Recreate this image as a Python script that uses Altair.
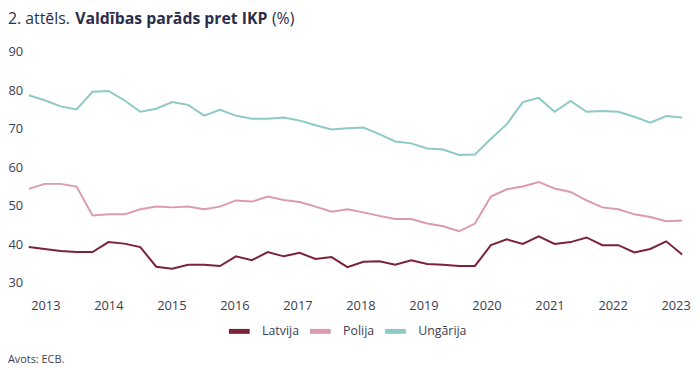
import altair as alt
import pandas as pd

# Quarterly data, 42 quarters
latvija = [39.3, 38.8, 38.3, 38.0, 38.0, 40.6, 40.2, 39.3, 34.2, 33.7, 34.7, 34.7, 34.4, 36.9,
           35.9, 38.0, 36.9, 37.8, 36.2, 36.7, 34.1, 35.5, 35.6, 34.7, 35.9, 34.9, 34.7, 34.4,
           34.4, 39.8, 41.3, 40.1, 42.1, 40.1, 40.6, 41.8, 39.8, 39.8, 37.9, 38.8, 40.8, 37.4]
polija = [54.4, 55.7, 55.7, 55.0, 47.5, 47.8, 47.8, 49.1, 49.8, 49.6, 49.8, 49.1, 49.8, 51.4,
          51.1, 52.4, 51.5, 51.0, 49.8, 48.5, 49.1, 48.3, 47.4, 46.6, 46.6, 45.4, 44.7, 43.4,
          45.4, 52.4, 54.3, 55.0, 56.2, 54.5, 53.6, 51.4, 49.6, 49.1, 47.8, 47.1, 46.0, 46.2]
ungarija = [78.7, 77.4, 75.8, 75.0, 79.6, 79.8, 77.4, 74.4, 75.2, 76.9, 76.2, 73.4, 74.9, 73.4,
            72.6, 72.6, 72.9, 72.1, 70.9, 69.8, 70.1, 70.3, 68.6, 66.7, 66.2, 64.9, 64.6, 63.2,
            63.3, 67.4, 71.2, 76.9, 78.0, 74.4, 77.2, 74.4, 74.6, 74.4, 73.1, 71.6, 73.3, 72.9]

series_names = ["Latvija", "Polija", "Ungārija"]
series_colors = ["#7d2236", "#dc9aae", "#8dc9c6"]
years = list(range(2013, 2024))
y_ticks = [30, 40, 50, 60, 70, 80, 90]

rows = []
for name, vals in zip(series_names, [latvija, polija, ungarija]):
    for i, v in enumerate(vals):
        rows.append({"q": i, "valsts": name, "v": v})
df = pd.DataFrame(rows)

# year label positions on the quarter axis
year_pos = [1.04 + (y - 2013) * 3.955 for y in years]

label_color = "#3b3d50"
title_color = "#2b2e4a"
FONT = "Open Sans"

lines = alt.Chart(df).mark_line(strokeWidth=2).encode(
    x=alt.X("q:Q", scale=alt.Scale(domain=[0, 41], nice=False, zero=False),
            axis=alt.Axis(values=year_pos, title=None, grid=False, domain=False, ticks=False,
                          labelExpr="round(2013 + (datum.value - 1.04) / 3.955)",
                          labelFontSize=13, labelColor=label_color, labelFont=FONT,
                          labelPadding=23, labelBaseline="middle", labelFlush=False)),
    y=alt.Y("v:Q", scale=alt.Scale(domain=[30, 90], nice=False, zero=False),
            axis=alt.Axis(values=y_ticks, title=None, grid=False, domain=False, ticks=False,
                          labelFontSize=13, labelColor=label_color, labelFont=FONT,
                          labelAlign="left", labelPadding=21, labelBaseline="middle")),
    color=alt.Color("valsts:N", scale=alt.Scale(domain=series_names, range=series_colors),
                    legend=alt.Legend(title=None, orient="none", legendX=200, legendY=270,
                                      direction="horizontal", symbolType="stroke",
                                      symbolSize=441, symbolStrokeWidth=5,
                                      labelFontSize=12.5, labelFont=FONT, labelColor=label_color,
                                      labelOffset=10, columnPadding=0)),
    order="q:Q",
)

def txt(s, x, y, weight="normal", size=16, baseline="alphabetic", color=title_color):
    return alt.Chart(pd.DataFrame({"t": [s]})).mark_text(
        align="left", baseline=baseline, font=FONT, fontSize=size, fontWeight=weight, color=color
    ).encode(text="t:N", x=alt.value(x), y=alt.value(y))

t1 = txt("2. attēls.", -21, -28)
t2 = txt("Valdības parāds pret IKP", 47, -28, weight="bold")
t3 = txt("(%)", 246, -28)
src = txt("Avots: ECB.", -21, 312, size=11, baseline="middle", color=label_color)

chart = alt.layer(lines, t1, t2, t3, src).properties(
    width=661, height=234,
    padding={"left": 21, "top": 42, "right": 10, "bottom": 92},
    autosize=alt.AutoSizeParams(type="none"),
).configure_view(stroke=None)

chart.save("out.html", embed_options={"renderer": "svg", "actions": False})
